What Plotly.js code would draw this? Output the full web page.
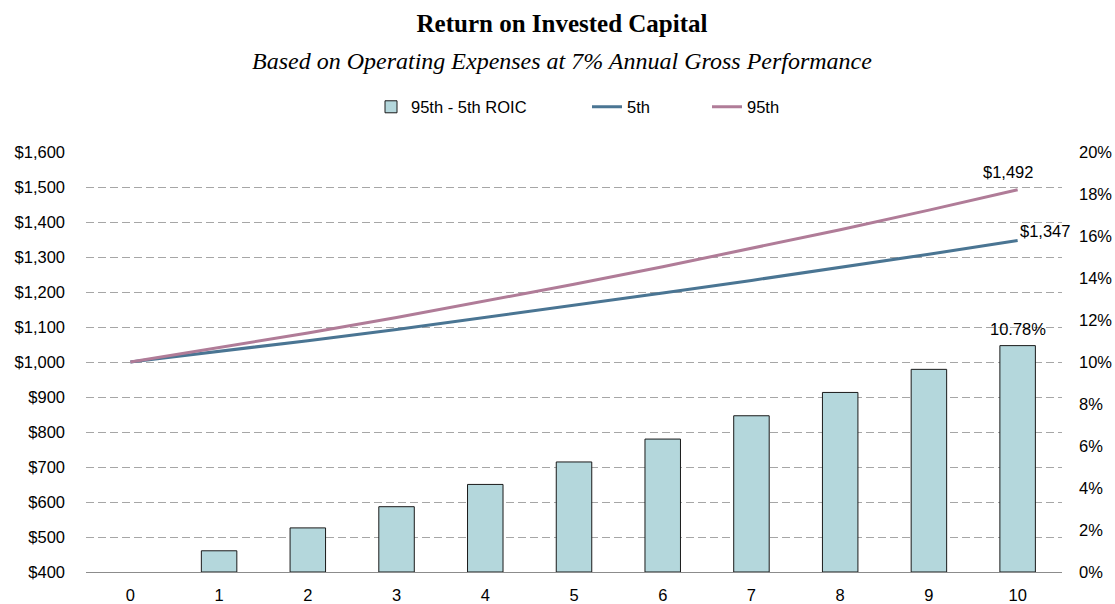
<!DOCTYPE html>
<html>
<head>
<meta charset="utf-8">
<script src="https://cdn.plot.ly/plotly-3.0.1.min.js"></script>
<style>html,body{margin:0;padding:0;background:#fff;}#chart{width:1115px;height:604px;}</style>
</head>
<body>
<div id="chart"></div>
<script>
// Data
var years = [0, 1, 2, 3, 4, 5, 6, 7, 8, 9, 10];
var spreadROIC = [0, 0.0101, 0.0210, 0.0311, 0.0417, 0.0524, 0.0633, 0.0744, 0.0855, 0.0965, 0.1078];
var p5 = [1000, 1030, 1061, 1093, 1127, 1161, 1197, 1233, 1270, 1308, 1347];
var p95 = [1000, 1041, 1083, 1127, 1174, 1222, 1272, 1324, 1378, 1434, 1492];
var seriesNames = ['95th - 5th ROIC', '5th', '95th'];
var titleText = 'Return on Invested Capital';
var subtitleText = 'Based on Operating Expenses at 7% Annual Gross Performance';

var sans = 'Liberation Sans, Arial, sans-serif';
var serif = 'Liberation Serif, Times New Roman, serif';
var last = years.length - 1;
function money(v) { return '$' + v.toLocaleString('en-US'); }

// bars are passed last-to-first so the legend swatch takes the style of a non-empty bar
var barX = years.slice().reverse();
var barY = spreadROIC.slice().reverse();
var barLineW = barY.map(function (v) { return v > 0 ? 1 : 0; });

var traces = [
  {
    type: 'bar', name: seriesNames[0], x: barX, y: barY, yaxis: 'y2',
    width: 0.4,
    marker: {color: '#B4D7DC', line: {color: '#1a1a1a', width: barLineW}},
    legend: 'legend', hoverinfo: 'skip'
  },
  {
    type: 'scatter', mode: 'lines', name: seriesNames[1], x: years, y: p5,
    line: {color: '#4A7593', width: 3}, legend: 'legend2', hoverinfo: 'skip'
  },
  {
    type: 'scatter', mode: 'lines', name: seriesNames[2], x: years, y: p95,
    line: {color: '#B07C98', width: 3}, legend: 'legend3', hoverinfo: 'skip'
  }
];

var legendBase = {orientation: 'h', yanchor: 'middle', y: 1.107, xanchor: 'left',
  font: {family: sans, size: 16.5, color: '#000'}, bgcolor: 'rgba(0,0,0,0)', itemwidth: 30};

var layout = {
  width: 1115, height: 604,
  margin: {l: 86, r: 53, t: 152, b: 32},
  paper_bgcolor: '#fff', plot_bgcolor: '#fff',
  showlegend: true,
  title: {
    text: '<b>' + titleText + '</b>',
    font: {family: serif, size: 25, color: '#000'},
    x: 562 / 1115, xref: 'container', xanchor: 'center',
    y: 1 - 23 / 604, yref: 'container', yanchor: 'middle'
  },
  xaxis: {
    type: 'linear', range: [-0.5, 10.5],
    tickvals: years, ticktext: years.map(String),
    showgrid: false, zeroline: false,
    showline: true, linecolor: '#8c8c8c', linewidth: 1,
    ticks: '', ticklabelstandoff: 8,
    tickfont: {family: sans, size: 16.5, color: '#000'}
  },
  yaxis: {
    range: [400, 1600], dtick: 100, tick0: 400,
    tickprefix: '$', tickformat: ',d',
    showgrid: true, gridcolor: '#a6a6a6', gridwidth: 1, griddash: '8px,4px',
    zeroline: false, showline: false, ticks: '', ticklabelstandoff: 20,
    tickfont: {family: sans, size: 16.5, color: '#000'}
  },
  yaxis2: {
    overlaying: 'y', side: 'right', range: [0, 0.20], dtick: 0.02, tick0: 0,
    tickformat: '.0%', showgrid: false, zeroline: false, showline: false,
    ticks: '', ticklabelstandoff: 16,
    tickfont: {family: sans, size: 16.5, color: '#000'}
  },
  legend: Object.assign({}, legendBase, {x: (371 - 86) / 976}),
  legend2: Object.assign({}, legendBase, {x: (587 - 86) / 976}),
  legend3: Object.assign({}, legendBase, {x: (707 - 86) / 976}),
  annotations: [
    {
      xref: 'paper', yref: 'paper', x: (562 - 86) / 976, y: (572 - 61) / 420,
      xanchor: 'center', yanchor: 'middle', showarrow: false,
      text: '<i>' + subtitleText + '</i>',
      font: {family: serif, size: 24, color: '#000'}
    },
    {
      x: years[last], y: p95[last], xref: 'x', yref: 'y', showarrow: false,
      text: money(p95[last]), xanchor: 'center', yanchor: 'middle',
      xshift: -10, yshift: 18, font: {family: sans, size: 16.5, color: '#000'}
    },
    {
      x: years[last], y: p5[last], xref: 'x', yref: 'y', showarrow: false,
      text: money(p5[last]), xanchor: 'left', yanchor: 'middle',
      xshift: 0, yshift: 10, font: {family: sans, size: 16.5, color: '#000'}
    },
    {
      x: years[last], y: spreadROIC[last], xref: 'x', yref: 'y2', showarrow: false,
      text: (spreadROIC[last] * 100).toFixed(2) + '%', xanchor: 'center', yanchor: 'middle',
      yshift: 17, font: {family: sans, size: 16.5, color: '#000'}
    }
  ]
};

Plotly.newPlot('chart', traces, layout, {displayModeBar: false, staticPlot: true});
</script>
</body>
</html>
